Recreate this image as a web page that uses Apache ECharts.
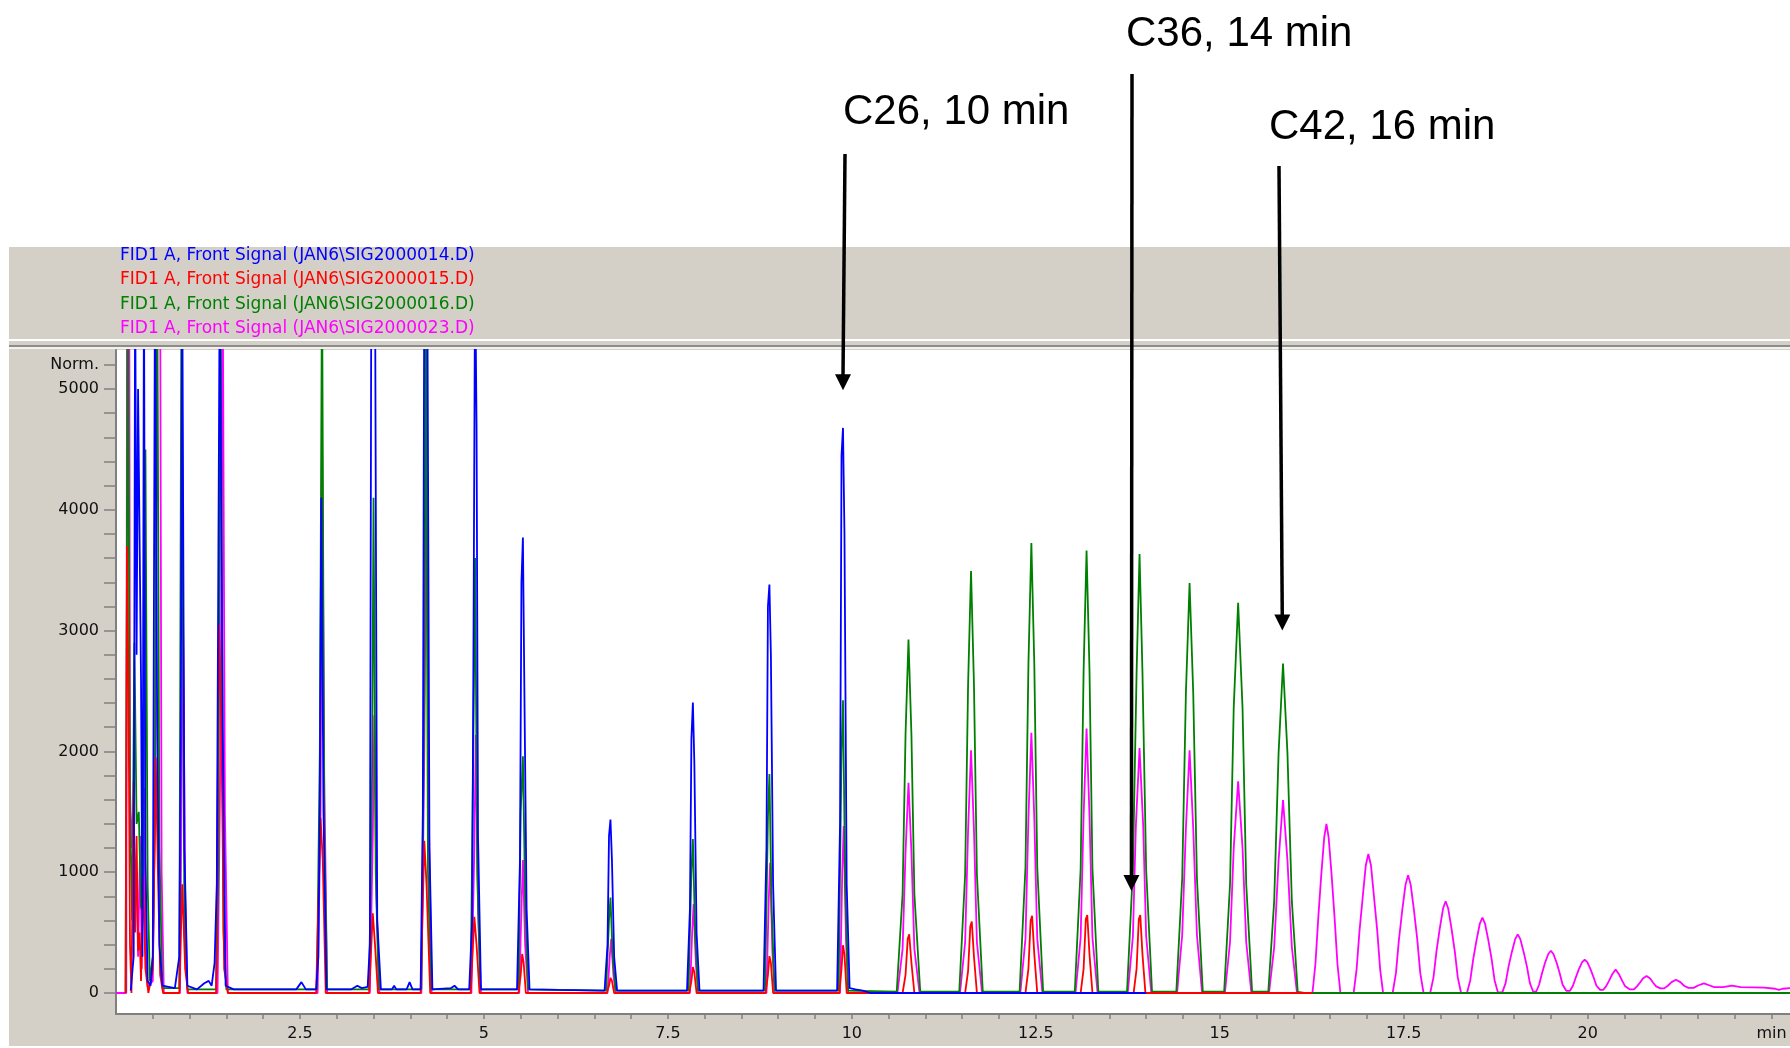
<!DOCTYPE html>
<html>
<head>
<meta charset="utf-8">
<title>FID chromatogram</title>
<script src="https://cdn.jsdelivr.net/npm/echarts@6/dist/echarts.min.js"></script>
<style>
  html, body { margin: 0; padding: 0; background: #fff; }
  #chart { width: 1790px; height: 1048px; }
</style>
</head>
<body>
<div id="chart"></div>
<script>
// 四个信号的名称和颜色
const signalNames = [
  'FID1 A, Front Signal (JAN6\\SIG2000014.D)',
  'FID1 A, Front Signal (JAN6\\SIG2000015.D)',
  'FID1 A, Front Signal (JAN6\\SIG2000016.D)',
  'FID1 A, Front Signal (JAN6\\SIG2000023.D)'
];
const signalColors = ['#0000ff', '#ff0000', '#008000', '#ff00ff'];

// 刻度
const xTicks = [0.5, 1, 1.5, 2, 2.5, 3, 3.5, 4, 4.5, 5, 5.5, 6, 6.5, 7, 7.5, 8, 8.5, 9, 9.5, 10,
  10.5, 11, 11.5, 12, 12.5, 13, 13.5, 14, 14.5, 15, 15.5, 16, 16.5, 17, 17.5, 18, 18.5, 19, 19.5, 20,
  20.5, 21, 21.5, 22, 22.5];
const xLabels = [2.5, 5, 7.5, 10, 12.5, 15, 17.5, 20, 22.5];
const yTicks = [0, 200, 400, 600, 800, 1000, 1200, 1400, 1600, 1800, 2000, 2200, 2400, 2600, 2800,
  3000, 3200, 3400, 3600, 3800, 4000, 4200, 4400, 4600, 4800, 5000, 5200];
const yLabels = [0, 1000, 2000, 3000, 4000, 5000, 5200];

// 标注 (文字, 箭头指向的时间和信号值)
const noteLabels = ['C26, 10 min', 'C36, 14 min', 'C42, 16 min'];
const noteTime = [9.88, 13.80, 15.85];
const noteValue = [4990, 845, 3000];

// [时间 min, 信号]  蓝色 SIG2000014
const sig14 = [
  [0.20, 20], [0.24, 300], [0.26, 6000], [0.28, 2800], [0.30, 5000], [0.32, 5000], [0.34, 2600], [0.36, 300],
  [0.38, 6000], [0.40, 1100], [0.43, 100], [0.47, 60], [0.50, 300], [0.53, 6000], [0.56, 2200], [0.59, 400], [0.63, 60],
  [0.80, 40], [0.86, 300], [0.88, 2100], [0.90, 6000], [0.93, 1200], [0.97, 60],
  [1.10, 30], [1.20, 80], [1.26, 100], [1.30, 60], [1.34, 250], [1.37, 900], [1.41, 6000], [1.45, 2200], [1.49, 60], [1.60, 30],
  [2.45, 30], [2.52, 90], [2.58, 30], [2.72, 30], [2.75, 300], [2.77, 1600], [2.79, 4100], [2.82, 1500], [2.86, 30],
  [3.20, 30], [3.28, 60], [3.34, 40], [3.42, 50], [3.45, 400], [3.47, 6000], [3.52, 6000], [3.55, 600], [3.60, 30],
  [3.75, 30], [3.78, 60], [3.81, 30], [3.95, 30], [3.99, 90], [4.03, 30],
  [4.14, 30], [4.17, 1500], [4.19, 6000], [4.23, 6000], [4.26, 1200], [4.30, 30],
  [4.55, 40], [4.60, 60], [4.65, 30], [4.80, 30], [4.84, 600], [4.86, 3100], [4.88, 6000], [4.90, 4700], [4.92, 1300], [4.96, 30],
  [5.45, 30], [5.49, 1100], [5.51, 3400], [5.53, 3770], [5.55, 2500], [5.58, 700], [5.62, 30],
  [6.00, 25], [6.64, 20], [6.68, 400], [6.70, 1300], [6.72, 1436], [6.74, 1100], [6.77, 300], [6.81, 20],
  [7.76, 20], [7.80, 700], [7.82, 2100], [7.84, 2405], [7.86, 1900], [7.89, 500], [7.93, 20],
  [8.80, 20], [8.84, 1200], [8.86, 3200], [8.88, 3382], [8.90, 2800], [8.93, 900], [8.97, 20],
  [9.80, 20], [9.84, 1400], [9.86, 4450], [9.88, 4678], [9.90, 3800], [9.93, 900], [9.97, 40],
  [10.05, 30], [10.15, 20], [10.25, 0], [14.00, 0]
];

// 红色 SIG2000015
const sig15 = [
  [0.13, 0], [0.15, 3700], [0.17, 2500], [0.19, 400], [0.21, 0], [0.24, 1750], [0.26, 500], [0.28, 1300], [0.30, 350],
  [0.32, 500], [0.34, 100], [0.37, 950], [0.40, 200], [0.44, 0], [0.50, 200], [0.54, 1950], [0.57, 1000], [0.60, 150], [0.64, 0],
  [0.86, 0], [0.90, 900], [0.94, 200], [0.98, 0],
  [1.36, 0], [1.40, 3050], [1.43, 2300], [1.47, 200], [1.52, 0],
  [2.72, 0], [2.78, 1450], [2.81, 1100], [2.85, 0],
  [3.44, 0], [3.49, 660], [3.52, 400], [3.56, 0],
  [4.14, 0], [4.19, 1260], [4.22, 900], [4.27, 0],
  [4.82, 0], [4.87, 630], [4.90, 400], [4.94, 0],
  [5.47, 0], [5.50, 150], [5.52, 323], [5.54, 250], [5.57, 0],
  [6.67, 0], [6.70, 60], [6.72, 126], [6.74, 100], [6.77, 0],
  [7.79, 0], [7.82, 100], [7.84, 215], [7.86, 170], [7.89, 0],
  [8.83, 0], [8.86, 150], [8.88, 305], [8.90, 250], [8.93, 0],
  [9.83, 0], [9.86, 200], [9.88, 395], [9.90, 320], [9.93, 0],
  [10.69, 0], [10.73, 150], [10.76, 450], [10.78, 485], [10.81, 250], [10.85, 0],
  [11.54, 0], [11.58, 180], [11.61, 550], [11.63, 592], [11.66, 300], [11.70, 0],
  [12.36, 0], [12.40, 200], [12.43, 600], [12.45, 639], [12.48, 320], [12.52, 0],
  [13.11, 0], [13.15, 200], [13.18, 610], [13.20, 646], [13.23, 320], [13.27, 0],
  [13.83, 0], [13.87, 200], [13.90, 610], [13.92, 646], [13.95, 320], [13.99, 0],
  [16.26, 0]
];

// 绿色 SIG2000016
const sig16 = [
  [0.13, 0], [0.16, 6000], [0.19, 1500], [0.22, 600], [0.25, 2900], [0.28, 1400], [0.31, 1500], [0.34, 700], [0.37, 1000],
  [0.40, 4500], [0.43, 900], [0.46, 100], [0.50, 300], [0.53, 1500], [0.56, 6000], [0.59, 1200], [0.63, 40],
  [0.86, 40], [0.89, 6000], [0.93, 500], [0.97, 30],
  [1.36, 30], [1.39, 1000], [1.42, 6000], [1.46, 500], [1.50, 30],
  [2.73, 30], [2.77, 2000], [2.80, 6000], [2.83, 1400], [2.87, 30],
  [3.44, 30], [3.48, 1800], [3.50, 4100], [3.53, 1000], [3.57, 30],
  [4.15, 30], [4.19, 2500], [4.21, 6000], [4.24, 1000], [4.28, 30],
  [4.82, 30], [4.86, 2300], [4.88, 3600], [4.91, 1000], [4.95, 30],
  [5.47, 30], [5.50, 1500], [5.53, 1960], [5.56, 800], [5.60, 30],
  [6.66, 20], [6.70, 600], [6.72, 790], [6.75, 300], [6.79, 20],
  [7.78, 20], [7.82, 1000], [7.84, 1274], [7.87, 500], [7.91, 20],
  [8.82, 20], [8.86, 1450], [8.88, 1813], [8.91, 700], [8.95, 20],
  [9.82, 20], [9.86, 2000], [9.88, 2423], [9.91, 900], [9.95, 20],
  [10.61, 10], [10.69, 820], [10.73, 2140], [10.77, 2926], [10.81, 2140], [10.85, 820], [10.93, 10],
  [11.46, 10], [11.54, 980], [11.58, 2550], [11.62, 3493], [11.66, 2550], [11.70, 980], [11.78, 10],
  [12.28, 10], [12.36, 1040], [12.40, 2720], [12.44, 3726], [12.48, 2720], [12.52, 1040], [12.60, 10],
  [13.03, 10], [13.11, 1030], [13.15, 2670], [13.19, 3662], [13.23, 2670], [13.27, 1030], [13.35, 10],
  [13.74, 10], [13.82, 1020], [13.87, 2650], [13.91, 3633], [13.95, 2650], [14.00, 1020], [14.08, 10],
  [14.41, 10], [14.49, 950], [14.54, 2480], [14.59, 3393], [14.64, 2480], [14.69, 950], [14.77, 10],
  [15.06, 10], [15.14, 900], [15.19, 2360], [15.25, 3231], [15.31, 2360], [15.36, 900], [15.44, 10],
  [15.66, 10], [15.74, 760], [15.80, 1990], [15.86, 2728], [15.92, 1990], [15.98, 760], [16.06, 10],
  [16.15, 0], [22.75, 0]
];

// 品红 SIG2000023
const sig23 = [
  [0, 0], [0.14, 0], [0.15, 6000], [0.18, 6000], [0.19, 1700], [0.21, 1200], [0.23, 1500], [0.25, 600], [0.28, 1000],
  [0.30, 300], [0.33, 1300], [0.35, 200], [0.38, 1700], [0.40, 400], [0.43, 50], [0.50, 100], [0.53, 1500],
  [0.56, 6000], [0.60, 6000], [0.62, 1000], [0.65, 0],
  [0.87, 0], [0.91, 3200], [0.94, 800], [0.97, 0],
  [1.38, 0], [1.42, 2000], [1.45, 6000], [1.48, 1500], [1.52, 0],
  [2.74, 0], [2.78, 1500], [2.80, 4700], [2.83, 1800], [2.87, 0],
  [3.45, 0], [3.49, 1300], [3.51, 2300], [3.54, 800], [3.58, 0],
  [4.15, 0], [4.19, 2000], [4.22, 4300], [4.25, 1500], [4.29, 0],
  [4.83, 0], [4.87, 1200], [4.89, 2136], [4.92, 700], [4.96, 0],
  [5.48, 0], [5.51, 700], [5.53, 1100], [5.56, 400], [5.60, 0],
  [6.68, 0], [6.71, 300], [6.73, 449], [6.76, 150], [6.79, 0],
  [7.80, 0], [7.83, 500], [7.85, 736], [7.88, 250], [7.91, 0],
  [8.84, 0], [8.87, 750], [8.89, 1077], [8.92, 350], [8.95, 0],
  [9.84, 0], [9.87, 1000], [9.89, 1382], [9.92, 450], [9.95, 0],
  [10.62, 0], [10.69, 365], [10.73, 1165], [10.77, 1741], [10.81, 1165], [10.85, 365], [10.92, 0],
  [11.47, 0], [11.54, 420], [11.58, 1345], [11.62, 2010], [11.66, 1345], [11.70, 420], [11.77, 0],
  [12.29, 0], [12.36, 450], [12.40, 1445], [12.44, 2154], [12.48, 1445], [12.52, 450], [12.59, 0],
  [13.04, 0], [13.11, 460], [13.15, 1470], [13.19, 2190], [13.23, 1470], [13.27, 460], [13.34, 0],
  [13.75, 0], [13.82, 470], [13.86, 1380], [13.91, 2028], [13.96, 1380], [14.00, 470], [14.07, 0],
  [14.42, 0], [14.49, 480], [14.54, 1360], [14.59, 2010], [14.64, 1360], [14.69, 480], [14.76, 0],
  [15.07, 0], [15.14, 420], [15.19, 1200], [15.25, 1752], [15.31, 1200], [15.36, 420], [15.43, 0],
  [15.67, 0], [15.74, 380], [15.80, 1100], [15.86, 1598], [15.92, 1100], [15.98, 380], [16.05, 0],
  [16.26, 0], [16.30, 238], [16.34, 630], [16.38, 980], [16.42, 1288], [16.45, 1400], [16.48, 1288], [16.52, 980], [16.56, 630], [16.60, 238], [16.64, 0],
  [16.82, 0], [16.86, 196], [16.90, 518], [16.945, 805], [16.985, 1058], [17.02, 1150], [17.055, 1058], [17.095, 805], [17.14, 518], [17.18, 196], [17.22, 0],
  [17.35, 0], [17.395, 166], [17.435, 439], [17.48, 683], [17.525, 897], [17.56, 975], [17.595, 897], [17.64, 683], [17.685, 439], [17.725, 166], [17.77, 0],
  [17.86, 0], [17.905, 129], [17.945, 342], [17.99, 532], [18.035, 699], [18.07, 760], [18.105, 699], [18.15, 532], [18.195, 342], [18.235, 129], [18.28, 0],
  [18.36, 0], [18.405, 106], [18.445, 281], [18.49, 438], [18.535, 575], [18.57, 625], [18.605, 575], [18.65, 438], [18.695, 281], [18.735, 106], [18.78, 5],
  [18.84, 5], [18.885, 82], [18.925, 218], [18.97, 340], [19.015, 446], [19.05, 485], [19.085, 446], [19.13, 340], [19.175, 218], [19.215, 82], [19.26, 10],
  [19.30, 10], [19.34, 68], [19.38, 163], [19.42, 248], [19.465, 323], [19.50, 350], [19.535, 323], [19.58, 248], [19.62, 163], [19.66, 68], [19.71, 18],
  [19.76, 18], [19.80, 60], [19.84, 130], [19.88, 195], [19.925, 255], [19.96, 275], [19.995, 255], [20.04, 195], [20.08, 130], [20.12, 60], [20.17, 25],
  [20.21, 25], [20.25, 55], [20.29, 100], [20.33, 150], [20.38, 195], [20.43, 150], [20.47, 100], [20.51, 55], [20.57, 30],
  [20.63, 30], [20.67, 55], [20.71, 85], [20.75, 120], [20.80, 140], [20.85, 120], [20.89, 85], [20.93, 55], [20.99, 38],
  [21.04, 38], [21.09, 60], [21.14, 90], [21.20, 110], [21.26, 90], [21.31, 60], [21.37, 42],
  [21.44, 42], [21.50, 62], [21.58, 80], [21.66, 62], [21.72, 48],
  [21.84, 48], [21.96, 60], [22.08, 48], [22.40, 45], [22.55, 35], [22.60, 25], [22.65, 35], [22.75, 40]
];

const seriesData = [sig14, sig15, sig16, sig23];

// 画图顺序: 品红在下, 蓝色在上
const drawOrder = [3, 2, 1, 0];

const chartDom = document.getElementById('chart');
const chart = echarts.init(chartDom);

const axisFont = { fontFamily: 'DejaVu Sans', fontSize: 16, color: '#101010' };

chart.setOption({
  animation: false,
  backgroundColor: '#ffffff',
  grid: {
    left: 116, right: 0, top: 350, bottom: 34,
    show: true, backgroundColor: '#ffffff', borderWidth: 0
  },
  legend: {
    left: 115, top: 247,
    orient: 'vertical',
    icon: 'none',
    itemWidth: 0, itemHeight: 14, itemGap: 7.5,
    padding: 0,
    selectedMode: false,
    data: signalNames.map((n, i) => ({ name: n, textStyle: { color: signalColors[i] } })),
    textStyle: { fontFamily: 'DejaVu Sans', fontSize: 17, lineHeight: 17 }
  },
  xAxis: {
    type: 'value', min: 0, max: 22.75,
    axisLine: { show: true, onZero: false, lineStyle: { color: '#808080', width: 2 } },
    axisTick: { show: true, length: 5, customValues: xTicks, lineStyle: { color: '#808080', width: 1.5 } },
    axisLabel: Object.assign({
      margin: 12,
      customValues: xLabels,
      formatter: v => (v === 22.5 ? 'min' : String(v))
    }, axisFont),
    splitLine: { show: false }
  },
  yAxis: {
    type: 'value', min: -174, max: 5323,
    axisLine: { show: true, lineStyle: { color: '#808080', width: 2 } },
    axisTick: { show: true, length: 12, customValues: yTicks, lineStyle: { color: '#808080', width: 1.5 } },
    axisLabel: Object.assign({
      margin: 17,
      customValues: yLabels,
      formatter: v => (v === 5200 ? 'Norm.' : String(v))
    }, axisFont),
    splitLine: { show: false }
  },
  graphic: {
    elements: [
      { type: 'rect', id: 'frame', z: -100, shape: { x: 9, y: 247, width: 1781, height: 799 }, style: { fill: '#d4d0c8' } },
      { type: 'rect', id: 'sep1', z: -99, shape: { x: 9, y: 339, width: 1781, height: 2 }, style: { fill: '#ffffff' } },
      { type: 'rect', id: 'sep2', z: -99, shape: { x: 9, y: 345, width: 1781, height: 2 }, style: { fill: '#8c8c8c' } },
      { type: 'rect', id: 'sep3', z: -99, shape: { x: 9, y: 347, width: 1781, height: 2 }, style: { fill: '#f2f1ed' } }
    ]
  },
  series: drawOrder.map(i => ({
    name: signalNames[i],
    type: 'line',
    data: seriesData[i],
    symbol: 'none',
    showSymbol: false,
    clip: true,
    color: signalColors[i],
    lineStyle: { color: signalColors[i], width: 1.8 }
  }))
});

// 箭头和文字标注
const arrowTops = [[845, 154], [1132, 74], [1279, 166]];
const textPos = [[843, 112], [1126, 34], [1269, 127]];
const noteElements = [];
noteLabels.forEach((label, i) => {
  const tip = chart.convertToPixel({ gridIndex: 0 }, [noteTime[i], noteValue[i]]);
  noteElements.push({
    type: 'line', id: 'arrowLine' + i, z: 50,
    shape: { x1: arrowTops[i][0], y1: arrowTops[i][1], x2: tip[0], y2: tip[1] - 12 },
    style: { stroke: '#000', lineWidth: 3.5 }
  });
  noteElements.push({
    type: 'polygon', id: 'arrowHead' + i, z: 50,
    shape: { points: [[tip[0] - 8, tip[1] - 16], [tip[0] + 8, tip[1] - 16], [tip[0], tip[1]]] },
    style: { fill: '#000' }
  });
  noteElements.push({
    type: 'text', id: 'note' + i, z: 50,
    x: textPos[i][0], y: textPos[i][1],
    style: {
      text: label, fill: '#000',
      font: '42px "Liberation Sans"',
      textAlign: 'left', textVerticalAlign: 'middle'
    }
  });
});
chart.setOption({ graphic: { elements: noteElements } });
</script>
</body>
</html>
